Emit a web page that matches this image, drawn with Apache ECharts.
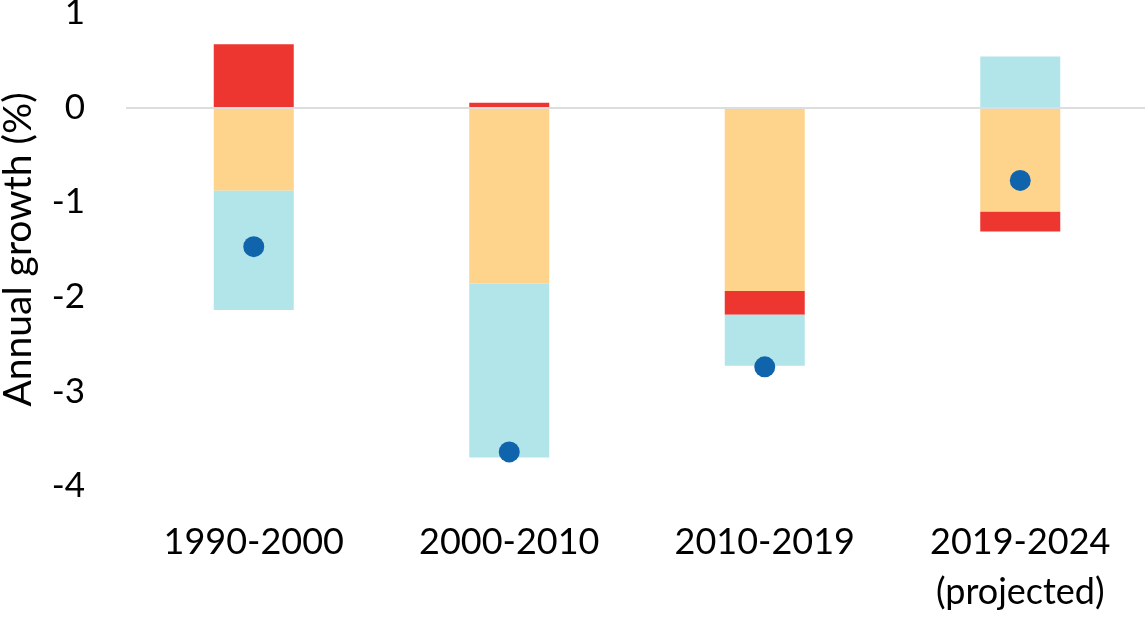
<!DOCTYPE html>
<html>
<head>
<meta charset="utf-8">
<title>Annual growth</title>
<script src="https://cdn.jsdelivr.net/npm/echarts@6/dist/echarts.min.js"></script>
<style>
  html, body { margin: 0; padding: 0; background: #fff; }
  #chart { width: 1145px; height: 617px; }
</style>
</head>
<body>
<div id="chart"></div>
<script>
const categories = ['1990-2000', '2000-2010', '2010-2019', '2019-2024\n(projected)'];
// stacked parts of each bar (same-sign stacking)
const orangePart = [-0.88, -1.86, -1.94, -1.10];
const redPart = [0.67, 0.05, -0.25, -0.21];
const cyanPart = [-1.26, -1.84, -0.54, 0.54];
// dots = total
const totals = [-1.47, -3.64, -2.74, -0.77];
const yTicks = { min: -4, max: 1, interval: 1 };

const font = 'Lato, "Open Sans", sans-serif';

const chart = echarts.init(document.getElementById('chart'));

const barSeries = (name, data, color) => ({
  name: name,
  type: 'bar',
  stack: 'total',
  barWidth: 80,
  data: data,
  itemStyle: { color: color },
  emphasis: { disabled: true }
});

const bars = [
  barSeries('orange', orangePart, '#FED38B'),
  barSeries('red', redPart, '#EE3630'),
  barSeries('cyan', cyanPart, '#B1E5E9')
];

// zero line
bars[0].markLine = {
  silent: true,
  symbol: 'none',
  label: { show: false },
  lineStyle: { color: '#DDDDDD', width: 2, type: 'solid' },
  data: [{ yAxis: 0 }]
};

chart.setOption({
  animation: false,
  grid: { left: 126, right: -3, top: 13, bottom: 131, outerBoundsMode: 'none', containLabel: false },
  xAxis: {
    type: 'category',
    data: categories,
    axisLine: { show: false },
    axisTick: { show: false },
    axisLabel: {
      color: '#000',
      fontFamily: font,
      fontSize: 36,
      lineHeight: 50,
      margin: 31
    }
  },
  yAxis: {
    type: 'value',
    min: yTicks.min,
    max: yTicks.max,
    interval: yTicks.interval,
    name: 'Annual growth (%)',
    nameLocation: 'middle',
    nameGap: 88,
    nameTextStyle: { color: '#000', fontFamily: font, fontSize: 39 },
    axisLine: { show: false },
    axisTick: { show: false },
    splitLine: { show: false },
    axisLabel: {
      color: '#000',
      fontFamily: font,
      fontSize: 35,
      margin: 41
    }
  },
  series: [
    ...bars,
    {
      name: 'total',
      type: 'scatter',
      data: totals,
      symbolSize: 21,
      itemStyle: { color: '#0F64AC', opacity: 1 },
      z: 5
    }
  ]
});
</script>
</body>
</html>
